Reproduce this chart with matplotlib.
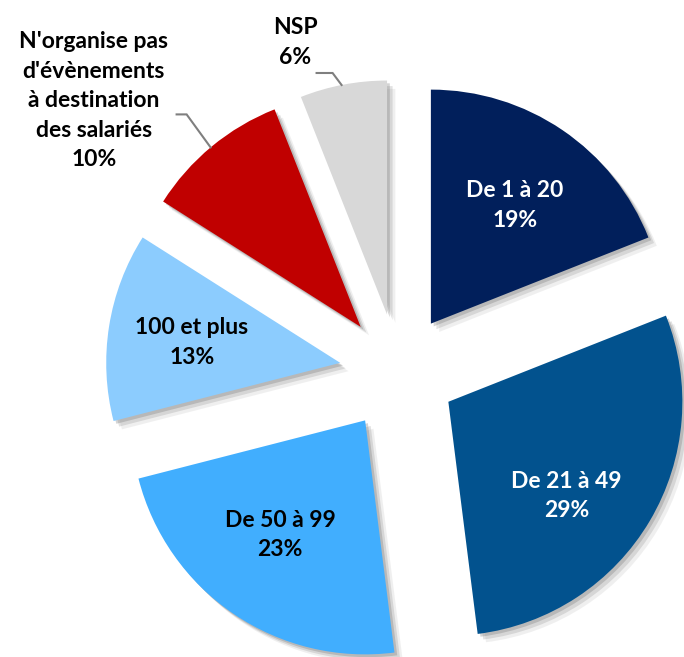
import numpy as np
import matplotlib
matplotlib.use("Agg")
import matplotlib.pyplot as plt
import matplotlib.patheffects as pe

# ---- data ----
categories = ["De 1 à 20", "De 21 à 49", "De 50 à 99", "100 et plus",
              "N'organise pas\nd'évènements\nà destination\ndes salariés", "NSP"]
values = [19, 29, 23, 13, 10, 6]
pct_labels = ["19%", "29%", "23%", "13%", "10%", "6%"]

# ---- style ----
colors = ["#011f5b", "#02528e", "#41aefe", "#8cccfe", "#c00000", "#d8d8d8"]
text_colors = ["white", "white", "black", "black", "black", "black"]
# label placement (distance as fraction of radius, angle offset in degrees)
label_dist = [0.62, 0.645, 0.61, 0.64, 1.495, 1.227]
label_off = [-1.2, -8.0, -2.3, 1.1, 10.1, 7.9]
FONT = "Lato"
FS = 16.5

W, H = 684, 657
fig = plt.figure(figsize=(W / 100, H / 100), dpi=100)
ax = fig.add_axes([0, 0, 1, 1])

R = 1.0
pxu = 234.0  # pixels per data unit
cx_px, cy_px = 398, 372

shadow = [pe.SimplePatchShadow(offset=(6, -6), shadow_rgbFace="0.7", alpha=0.2),
          pe.SimplePatchShadow(offset=(4, -4), shadow_rgbFace="0.55", alpha=0.25),
          pe.SimplePatchShadow(offset=(2, -2), shadow_rgbFace="0.45", alpha=0.3),
          pe.Normal()]

wedges, _ = ax.pie(values, colors=colors, startangle=90, counterclock=False,
                   explode=[0.25] * len(values), radius=R,
                   wedgeprops=dict(linewidth=0))
for w in wedges:
    w.set_path_effects(shadow)

for i, w in enumerate(wedges):
    th = np.deg2rad((w.theta1 + w.theta2) / 2 + label_off[i])
    cx, cy = w.center
    x = cx + label_dist[i] * w.r * np.cos(th)
    y = cy + label_dist[i] * w.r * np.sin(th)
    ax.text(x, y, categories[i] + "\n" + pct_labels[i], ha="center", va="center",
            color=text_colors[i], fontsize=FS, fontweight="bold", family=FONT,
            linespacing=1.5)

# leader lines for outside labels
def leader(idx, ang, d1, d2):
    w = wedges[idx]
    cx, cy = w.center
    a = np.deg2rad(ang)
    p0 = np.array([cx + w.r * np.cos(a), cy + w.r * np.sin(a)])
    p1 = p0 + np.array(d1) / pxu
    p2 = p1 + np.array(d2) / pxu
    ax.plot([p0[0], p1[0], p2[0]], [p0[1], p1[1], p2[1]], color="#7f7f7f", lw=1.5,
            solid_joinstyle="miter")

leader(5, 101.2, (-9, 12), (-16, 0))
leader(4, 129.9, (-24, 33), (-10, 0))

ax.set_xlim(-cx_px / pxu, (W - cx_px) / pxu)
ax.set_ylim(-(H - cy_px) / pxu, cy_px / pxu)
ax.set_aspect("auto")
ax.axis("off")

fig.savefig("out.png", dpi=100, facecolor="white")
